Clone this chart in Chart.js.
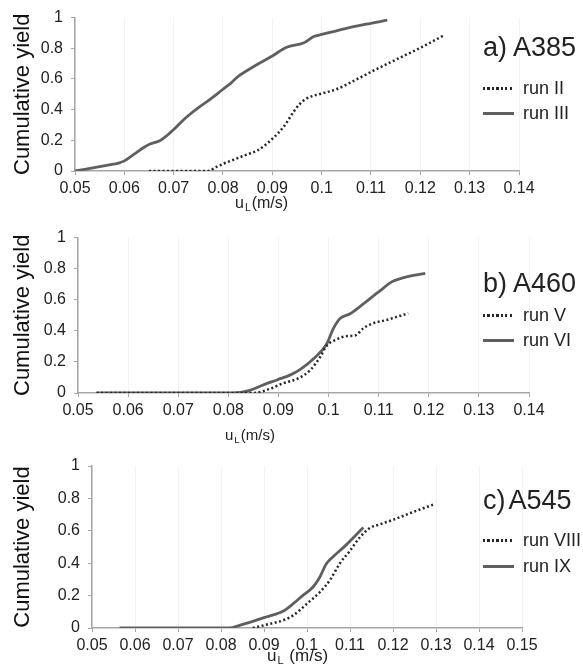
<!DOCTYPE html>
<html lang="en">
<head>
<meta charset="utf-8" />
<title>Cumulative yield</title>
<style>
  * { margin: 0; padding: 0; }
  body {
    width: 583px; height: 667px; position: relative; overflow: hidden;
    background: #fff; color: #222;
    font-family: "Liberation Sans", Arial, sans-serif;
  }
  canvas { position: absolute; left: 0; }
  .tag { position: absolute; left: 483px; font-size: 27px; line-height: 27px; white-space: nowrap; }
  .swatch { position: absolute; left: 483px; width: 31px; height: 2.5px; }
  .dot { background: repeating-linear-gradient(to right, #262626 0 2px, transparent 2px 4.5px); }
  .sol { background: #5f5f5f; height: 3px; }
  .keytxt { position: absolute; left: 523px; font-size: 18px; line-height: 18px; white-space: nowrap; }
  .xlab { position: absolute; line-height: 1; white-space: nowrap; }
  .xlab sub { font-size: 0.65em; vertical-align: -0.3em; margin: 0 1px; }
</style>
</head>
<body>
  <canvas id="chartA" width="583" height="220" style="top:0px"></canvas>
  <canvas id="chartB" width="583" height="220" style="top:220px"></canvas>
  <canvas id="chartC" width="583" height="227" style="top:440px"></canvas>

  <div class="tag" style="top:34px">a) A385</div>
  <div class="swatch dot" style="top:87px"></div><div class="keytxt" style="top:79px">run II</div>
  <div class="swatch sol" style="top:112px"></div><div class="keytxt" style="top:104px">run III</div>
  <div class="xlab" style="left:235px; top:195px; font-size:16px">u<sub>L</sub>(m/s)</div>

  <div class="tag" style="top:270px">b) A460</div>
  <div class="swatch dot" style="top:314px"></div><div class="keytxt" style="top:306px">run V</div>
  <div class="swatch sol" style="top:339px"></div><div class="keytxt" style="top:331px">run VI</div>
  <div class="xlab" style="left:225px; top:427px; font-size:15px">u<sub>L</sub>(m/s)</div>

  <div class="tag" style="top:487px">c)<span style="margin-left:3px">A545</span></div>
  <div class="swatch dot" style="top:539px"></div><div class="keytxt" style="top:531px">run VIII</div>
  <div class="swatch sol" style="top:565px"></div><div class="keytxt" style="top:557px">run IX</div>
  <div class="xlab" style="left:267px; top:647px; font-size:17px">u<sub>L</sub> (m/s)</div>

  <script src="https://cdn.jsdelivr.net/npm/chart.js@4.4.0/dist/chart.umd.min.js"></script>
  <script>
    // tick labels
    const yTicks = [0, 0.2, 0.4, 0.6, 0.8, 1];
    const xTicksAB = [0.05, 0.06, 0.07, 0.08, 0.09, 0.1, 0.11, 0.12, 0.13, 0.14];
    const xTicksC = [0.05, 0.06, 0.07, 0.08, 0.09, 0.1, 0.11, 0.12, 0.13, 0.14, 0.15];

    // a) A385
    const runII_x = [0.065, 0.0768, 0.0788, 0.0802, 0.0822, 0.0849, 0.087, 0.09, 0.0924, 0.0944, 0.0955, 0.097, 0.1, 0.103, 0.1064, 0.1105, 0.1152, 0.12, 0.1247];
    const runII_y = [0, 0, 0.028, 0.049, 0.074, 0.108, 0.134, 0.21, 0.293, 0.39, 0.435, 0.473, 0.505, 0.533, 0.586, 0.654, 0.728, 0.803, 0.883];
    const runIII_x = [0.05, 0.055, 0.0578, 0.059, 0.06, 0.062, 0.064, 0.0652, 0.0672, 0.0686, 0.07, 0.0717, 0.0733, 0.0753, 0.0775, 0.08, 0.0815, 0.0832, 0.0849, 0.087, 0.09, 0.0929, 0.0963, 0.0984, 0.1, 0.105, 0.109, 0.1133];
    const runIII_y = [0, 0.028, 0.045, 0.053, 0.066, 0.11, 0.155, 0.176, 0.197, 0.23, 0.27, 0.325, 0.37, 0.42, 0.47, 0.533, 0.57, 0.62, 0.655, 0.696, 0.75, 0.807, 0.834, 0.877, 0.89, 0.93, 0.957, 0.983];

    // b) A460
    const runV_x = [0.0537, 0.085, 0.0877, 0.091, 0.094, 0.0963, 0.0983, 0.0996, 0.1016, 0.1036, 0.1053, 0.107, 0.109, 0.1116, 0.1136, 0.1159];
    const runV_y = [0, 0, 0.02, 0.063, 0.095, 0.146, 0.23, 0.303, 0.345, 0.366, 0.37, 0.418, 0.45, 0.47, 0.49, 0.513];
    const runVI_x = [0.0537, 0.081, 0.0843, 0.087, 0.0897, 0.0923, 0.0943, 0.097, 0.0996, 0.101, 0.1023, 0.1043, 0.107, 0.1103, 0.1126, 0.115, 0.1193];
    const runVI_y = [0, 0, 0.017, 0.052, 0.084, 0.115, 0.15, 0.22, 0.314, 0.418, 0.48, 0.51, 0.575, 0.659, 0.715, 0.743, 0.77];

    // c) A545
    const runVIII_x = [0.0874, 0.0905, 0.0944, 0.0968, 0.1, 0.103, 0.1053, 0.1076, 0.11, 0.1123, 0.1146, 0.117, 0.12, 0.1247, 0.1293];
    const runVIII_y = [0, 0.02, 0.047, 0.078, 0.15, 0.222, 0.294, 0.397, 0.477, 0.56, 0.617, 0.64, 0.668, 0.716, 0.761];
    const runIX_x = [0.0564, 0.082, 0.0843, 0.0874, 0.0905, 0.0944, 0.0968, 0.099, 0.1014, 0.103, 0.1045, 0.106, 0.109, 0.1131];
    const runIX_y = [0, 0, 0.016, 0.041, 0.068, 0.103, 0.15, 0.2, 0.253, 0.315, 0.397, 0.438, 0.51, 0.62];

    const font = "'Liberation Sans', Arial, sans-serif";
    const axisGray = "#a6a6a6";

    const pts = (xs, ys) => xs.map((x, i) => ({ x: x, y: ys[i] }));

    const dotted = (xs, ys) => ({
      data: pts(xs, ys),
      borderColor: "#262626",
      borderWidth: 2.5,
      borderDash: [2, 2.5],
      pointRadius: 0,
      cubicInterpolationMode: "monotone",
      fill: false,
    });
    const solid = (xs, ys) => ({
      data: pts(xs, ys),
      borderColor: "#5f5f5f",
      borderWidth: 2.8,
      pointRadius: 0,
      cubicInterpolationMode: "monotone",
      fill: false,
    });

    const makeChart = (id, datasets, xTicks, box) => {
      new Chart(document.getElementById(id), {
        type: "line",
        data: { datasets: datasets },
        options: {
          responsive: false,
          animation: false,
          layout: { padding: { top: box.top, right: box.right, left: 0, bottom: 0 } },
          plugins: { legend: { display: false }, tooltip: { enabled: false } },
          scales: {
            x: {
              type: "linear",
              min: xTicks[0],
              max: xTicks[xTicks.length - 1],
              afterBuildTicks: (s) => { s.ticks = xTicks.map((v) => ({ value: v })); },
              afterFit: (s) => { s.height = box.xh; },
              grid: { color: "#f2f2f2", tickColor: axisGray, tickLength: 4 },
              border: { color: axisGray, width: 1.5 },
              ticks: {
                color: "#222", padding: 4, maxRotation: 0, autoSkip: false,
                font: { family: font, size: 16 },
                callback: (v) => String(v),
              },
            },
            y: {
              min: 0,
              max: 1,
              afterBuildTicks: (s) => { s.ticks = yTicks.map((v) => ({ value: v })); },
              afterFit: (s) => { s.width = box.yw; },
              grid: { drawOnChartArea: false, tickColor: axisGray, tickLength: 4 },
              border: { color: axisGray, width: 1.5 },
              ticks: {
                color: "#222", padding: 8,
                font: { family: font, size: 16 },
                callback: (v) => String(v),
              },
              title: {
                display: true,
                text: "Cumulative yield",
                color: "#111",
                font: { family: font, size: 22 },
                padding: { top: 10, bottom: 0 },
              },
            },
          },
        },
      });
    };

    makeChart("chartA", [dotted(runII_x, runII_y), solid(runIII_x, runIII_y)], xTicksAB,
      { top: 14, right: 64, xh: 49, yw: 75 });
    makeChart("chartB", [dotted(runV_x, runV_y), solid(runVI_x, runVI_y)], xTicksAB,
      { top: 14, right: 54, xh: 47, yw: 78 });
    makeChart("chartC", [dotted(runVIII_x, runVIII_y), solid(runIX_x, runIX_y)], xTicksC,
      { top: 26, right: 61, xh: 39, yw: 92 });
  </script>
</body>
</html>
